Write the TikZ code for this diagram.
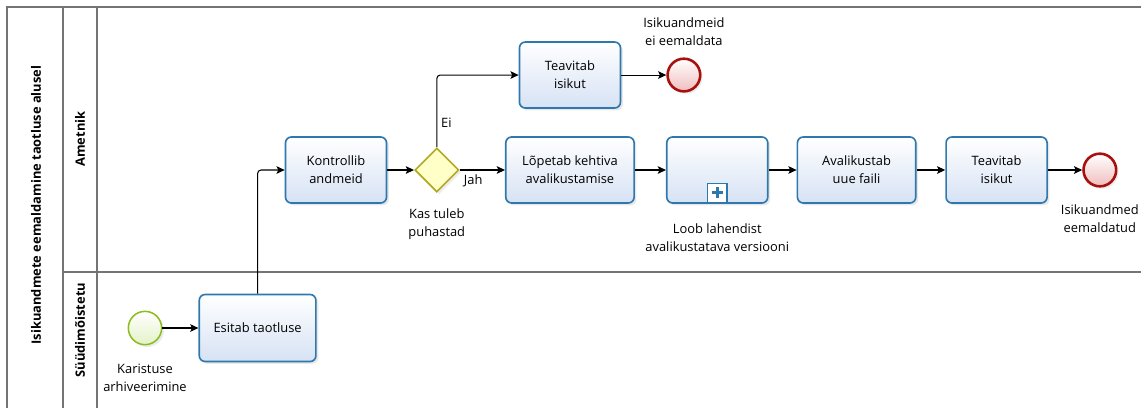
\documentclass[tikz,border=0pt]{standalone}
\usepackage{fontspec}
\setmainfont{Open Sans}
\usetikzlibrary{arrows.meta,positioning,shapes.geometric,shadows}

\definecolor{taskline}{HTML}{2F78AE}
\definecolor{taskfill}{HTML}{D6E2F4}
\definecolor{startline}{HTML}{8CBC1E}
\definecolor{startfill}{HTML}{E4F2C8}
\definecolor{endline}{HTML}{A8100F}
\definecolor{endfill}{HTML}{F0BDBD}
\definecolor{gateline}{HTML}{B2AA22}
\definecolor{gatefill}{HTML}{FFFFC8}
\definecolor{poolline}{HTML}{747474}

\begin{document}
\begin{tikzpicture}[x=0.03cm,y=-0.03cm,->,>={Stealth[length=7pt,width=6.5pt,inset=1.5pt]},line width=0.9pt,
    node distance=0.84cm,font=\fontsize{11}{15.5}\selectfont]
        \tikzstyle{task}=[rectangle,rounded corners=5pt,draw=taskline,line width=1.4pt,
            top color=white,bottom color=taskfill,minimum width=3.03cm,minimum height=1.98cm,
            align=center,drop shadow={opacity=0.18,shadow xshift=2pt,shadow yshift=-2pt}]
        \tikzstyle{startevent}=[circle,draw=startline,line width=1.3pt,top color=white,
            bottom color=startfill,minimum size=1cm,inner sep=0pt,
            drop shadow={opacity=0.15,shadow xshift=2pt,shadow yshift=-2pt}]
        \tikzstyle{endevent}=[circle,draw=endline,line width=2.2pt,top color=white,
            bottom color=endfill,minimum size=0.98cm,inner sep=0pt,
            drop shadow={opacity=0.15,shadow xshift=2pt,shadow yshift=-2pt}]
        \tikzstyle{gateway}=[diamond,draw=gateline,line width=1.4pt,fill=gatefill,
            minimum size=1.32cm,inner sep=0pt,aspect=1,
            drop shadow={opacity=0.15,shadow xshift=2pt,shadow yshift=-2pt}]
        \tikzstyle{lane}=[-,draw=poolline,line width=1pt]
        \tikzstyle{lanename}=[rotate=90,font=\fontsize{11}{15}\bfseries]
        \tikzstyle{flow}=[rounded corners=3pt]

        % pool and lanes
        \useasboundingbox (0,0) rectangle (1141,408);
        \draw[lane] (1141,7) -- (7,7) -- (7,408);
        \draw[lane] (63,7) -- (63,408);
        \draw[lane] (97,7) -- (97,408);
        \draw[lane] (63,272) -- (1141,272);
        \node[lanename] (poolname) at (36,205) {Isikuandmete eemaldamine taotluse alusel};
        \node[lanename] (ametnik) at (80,139) {Ametnik};
        \node[lanename] (syydlane) at (80,330) {Süüdimõistetu};

        % nodes
        \node[startevent,label={[align=center,label distance=12pt]below:Karistuse\\arhiveerimine}]
            (start) at (145,328) {};
        \node[task,minimum width=3.5cm,minimum height=2.01cm] (esitab) [right=1.08cm of start] {Esitab taotluse};
        \node[task] (kontroll) at (336,170) {Kontrollib\\andmeid};
        \node[gateway,label={[align=center,label distance=10pt]below:Kas tuleb\\puhastad}]
            (puhastus) [right=0.8cm of kontroll] {};
        \node[task,minimum width=3.85cm] (lopetab) [right=1.36cm of puhastus] {Lõpetab kehtiva\\avalikustamise};
        \node[task] (teavita1) [above=0.82cm of lopetab] {Teavitab\\isikut};
        \node[endevent,label={[align=center,label distance=6pt]above:Isikuandmeid\\ei eemaldata}]
            (lopp1) [right=1.35cm of teavita1] {};
        \node[task,label={[align=center,label distance=13pt]below:Loob lahendist\\avalikustatava versiooni}]
            (loob) [right=0.93cm of lopetab] {};
        \node[rectangle,draw=taskline,line width=1pt,fill=white,minimum size=0.58cm,inner sep=0pt,
            anchor=south] (loobplus) at ([yshift=0.7pt]loob.south) {};
        \node[task,minimum width=3.55cm] (avalik) [right=of loob] {Avalikustab\\uue faili};
        \node[task] (teavita2) [right=0.86cm of avalik] {Teavitab\\isikut};
        \node[endevent,label={[align=center,label distance=11pt]below:Isikuandmed\\eemaldatud}]
            (lopp2) [right=1.03cm of teavita2] {};

        \draw[-,taskline,line width=2.2pt] ([yshift=-4.5pt]loobplus.center) -- ([yshift=4.5pt]loobplus.center);
        \draw[-,taskline,line width=2.2pt] ([xshift=-4.5pt]loobplus.center) -- ([xshift=4.5pt]loobplus.center);

        % flows
        \path (start)    edge (esitab)
              (kontroll) edge (puhastus)
              (puhastus) edge node[below,pos=0.3] {Jah} (lopetab)
              (teavita1) edge (lopp1)
              (lopetab)  edge (loob)
              (loob)     edge (avalik)
              (avalik)   edge (teavita2)
              (teavita2) edge (lopp2);
        \draw[flow] (esitab.north) |- (kontroll.west);
        \draw[flow] (puhastus.north) |- node[right,pos=0.17] {Ei} (teavita1.west);
\end{tikzpicture}
\end{document}
